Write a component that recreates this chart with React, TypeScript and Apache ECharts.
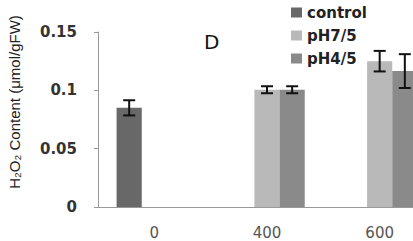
import React, { useEffect, useRef } from "react";
import * as echarts from "echarts";

const categories = ["0", "400", "600"];
const seriesNames = ["control", "pH7/5", "pH4/5"];
const controlValues = [0.085, null, null];
const ph75Values = [null, 0.1005, 0.125];
const ph45Values = [null, 0.1005, 0.1165];
const controlErr = [0.0065, null, null];
const ph75Err = [null, 0.003, 0.0088];
const ph45Err = [null, 0.003, 0.0145];
const colors = ["#686868", "#b9b9b9", "#8a8a8a"];
const yTitle = "H₂O₂ Content (μmol/gFW)";

export default function App() {
  const ref = useRef<HTMLDivElement>(null);
  useEffect(() => {
    if (!ref.current) return;
    const chart = echarts.init(ref.current, undefined, { renderer: "svg" });
    const values = [controlValues, ph75Values, ph45Values];
    const errs = [controlErr, ph75Err, ph45Err];
    const errData: any[] = [];
    values.forEach((vals, s) => {
      vals.forEach((v, i) => {
        const e = errs[s][i];
        if (v != null && e != null) errData.push([i, v - e, v + e, s]);
      });
    });
    const barSeries = seriesNames.map((name, s) => ({
      name,
      type: "bar",
      data: values[s].map((v) => (v == null ? "-" : v)),
      itemStyle: { color: colors[s] },
      barGap: "0%",
      barCategoryGap: "33%",
    }));
    chart.setOption({
      animation: false,
      title: {
        text: "D",
        left: 199,
        top: 27,
        textStyle: { fontSize: 20, fontWeight: "normal", color: "#111", fontFamily: "DejaVu Sans" },
      },
      legend: {
        data: seriesNames,
        orient: "vertical",
        left: 286,
        top: 0,
        itemWidth: 11,
        itemHeight: 10,
        itemGap: 8,
        icon: "rect",
        textStyle: { fontSize: 15, fontWeight: "bold", color: "#222", fontFamily: "DejaVu Sans" },
      },
      graphic: [
        {
          type: "text",
          x: 14,
          y: 102,
          rotation: Math.PI / 2,
          style: {
            text: yTitle,
            fontSize: 15,
            fill: "#222",
            fontFamily: "Liberation Sans",
            align: "center",
            verticalAlign: "middle",
          },
        },
      ],
      grid: { left: 98, top: 32, bottom: 34, right: -23, containLabel: false, outerBoundsMode: "none" },
      xAxis: {
        type: "category",
        data: categories,
        axisLine: { lineStyle: { color: "#999", width: 1 } },
        axisTick: { show: false },
        axisLabel: { margin: 19, fontSize: 15, lineHeight: 14, color: "#555", fontFamily: "DejaVu Sans" },
      },
      yAxis: {
        type: "value",
        min: 0,
        max: 0.15,
        interval: 0.05,
        axisLine: { show: true, lineStyle: { color: "#999" } },
        axisTick: { show: true, length: 4, lineStyle: { color: "#999" } },
        splitLine: { show: false },
        axisLabel: {
          margin: 21,
          fontSize: 15,
          fontWeight: "bold",
          color: "#333",
          fontFamily: "DejaVu Sans",
          formatter: (v: number) => String(Math.round(v * 100) / 100),
        },
      },
      series: [
        ...barSeries,
        {
          type: "custom",
          name: "err",
          data: errData,
          z: 10,
          renderItem: (params: any, api: any) => {
            const idx = api.value(0);
            const lo = api.coord([idx, api.value(1)]);
            const hi = api.coord([idx, api.value(2)]);
            const catW = api.size([1, 0])[0];
            const bw = (catW * 0.67) / 3;
            const s = api.value(3);
            const x = lo[0] + (s - 1) * bw;
            const cap = 6;
            const style = { stroke: "#111", lineWidth: 2 };
            return {
              type: "group",
              children: [
                { type: "line", shape: { x1: x, y1: lo[1], x2: x, y2: hi[1] }, style },
                { type: "line", shape: { x1: x - cap, y1: lo[1], x2: x + cap, y2: lo[1] }, style },
                { type: "line", shape: { x1: x - cap, y1: hi[1], x2: x + cap, y2: hi[1] }, style },
              ],
            };
          },
        },
      ],
    });
    return () => chart.dispose();
  }, []);
  return <div ref={ref} style={{ width: 413, height: 241, position: "absolute", left: 0, top: 0, background: "#fff" }} />;
}
